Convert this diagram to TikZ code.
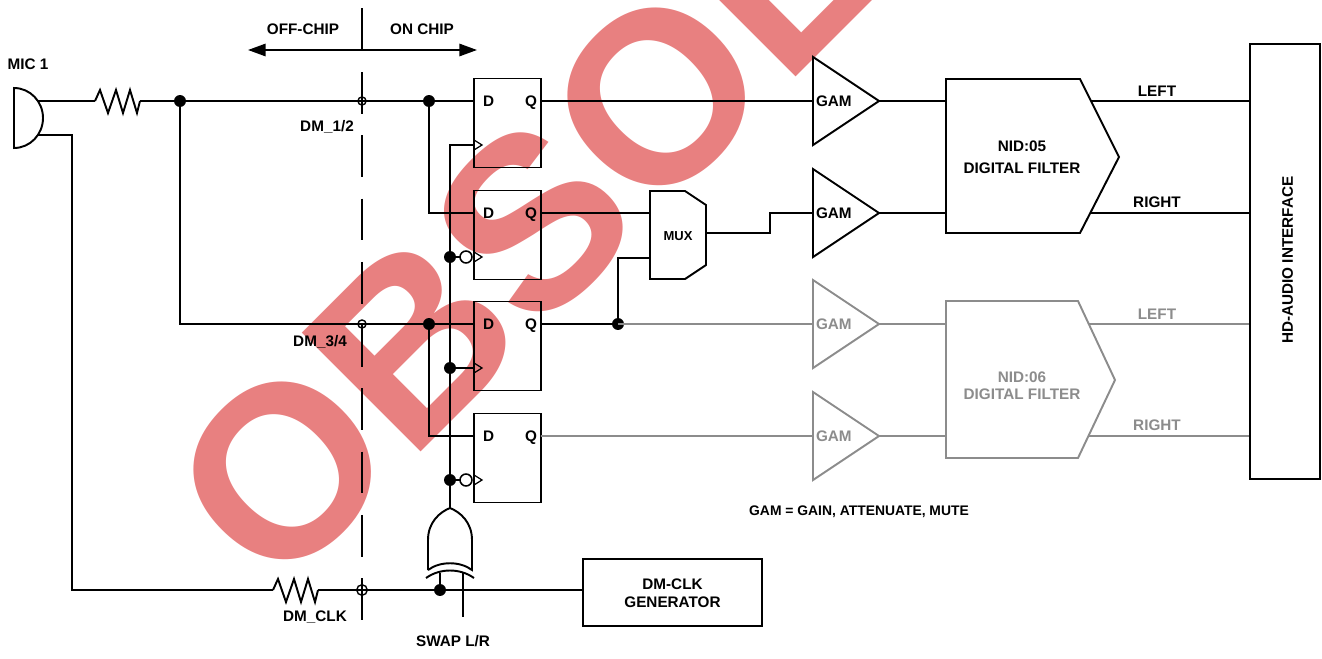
\documentclass[tikz,border=0pt]{standalone}
\usepackage{fontspec}
\setmainfont{Liberation Sans}
\usetikzlibrary{arrows.meta,calc}
\definecolor{wmcol}{RGB}{232,128,128}
\definecolor{dimcol}{RGB}{140,140,140}
\tikzset{
  wire/.style={line width=1.1pt, line join=miter},
  dimwire/.style={wire, draw=dimcol},
  lbl/.style={font=\fontsize{8.7}{10.2}\selectfont\bfseries, inner sep=0pt, outer sep=0pt},
  dimlbl/.style={lbl, text=dimcol},
  ffbox/.style={draw, line width=1.1pt, minimum width=1.34cm, minimum height=1.78cm, inner sep=0pt, outer sep=0pt},
  dot/.style={circle, fill, inner sep=0pt, outer sep=0pt, minimum size=6.8pt},
  ocirc/.style={circle, draw, line width=0.8pt, inner sep=0pt, minimum size=4.6pt},
  bubble/.style={circle, draw, fill=white, line width=0.9pt, inner sep=0pt, outer sep=0pt, minimum size=6.8pt},
  clkline/.style={line width=0.7pt},
  wmark/.style={font=\fontsize{139}{139}\selectfont\bfseries, text=wmcol, inner sep=0pt, rotate=45},
  resistor/.pic={\draw[wire] (0,0) -- (5,-11) -- (13,12) -- (21,-11) -- (28,12) -- (35,-11) -- (42,12) -- (45,0);
                 \coordinate (-a) at (0,0); \coordinate (-b) at (45,0);},
  clktri/.pic={\draw[clkline] (0,-5) -- (8,0) -- (0,5);},
  gam/.pic={\draw[line width=1.1pt] (0,-44) -- (66,0) -- (0,44) -- cycle;
            \coordinate (-in) at (0,0); \coordinate (-out) at (66,0);
            \node[lbl, anchor=base west] (-t) at (3,5.5) {GAM};},
}
\begin{document}
\begin{tikzpicture}[x=0.02cm,y=-0.02cm]
\useasboundingbox (0,0) rectangle (1322,659);
% watermark
\begin{scope}
  \clip (0,0) rectangle (1322,659);
  \node[wmark] (wm) at (691,63) {OBSOLETE};
\end{scope}

% flip-flops
\foreach \i/\y in {1/123,2/235,3/346,4/458}{
  \node[ffbox] (ff\i) at (507.5,\y) {};
  \coordinate (ff\i-d) at ($(ff\i.north west)+(0,22.5)$);
  \coordinate (ff\i-q) at ($(ff\i.north east)+(0,22.5)$);
  \coordinate (ff\i-c) at ($(ff\i.south west)+(0,-22.5)$);
  \node[lbl, anchor=base west] (ff\i-dl) at ($(ff\i.north west)+(9,28)$) {D};
  \node[lbl, anchor=base east] (ff\i-ql) at ($(ff\i.north east)+(-4,28)$) {Q};
  \pic at (ff\i-c) {clktri};
}

% junctions
\node[dot] (j1) at (180,101) {};
\node[dot] (j2) at (429,101) {};
\node[dot] (j4) at (429,324) {};
\node[dot] (j5) at ($(ff2-c)+(-24,0)$) {};
\node[dot] (j6) at ($(ff3-c)+(-24,0)$) {};
\node[dot] (j7) at ($(ff4-c)+(-24,0)$) {};
\node[dot] (j8) at (618,324) {};
\node[dot] (j9) at (440,590) {};
\node[ocirc] (c1) at (362,101) {};
\node[ocirc] (c2) at (362,324) {};
\node[ocirc, minimum width=4.6pt, minimum height=6pt] (c3) at (362,590) {};
\node[bubble] (b1) at ($(ff2-c)+(-8,0)$) {};
\node[bubble] (b2) at ($(ff4-c)+(-8,0)$) {};

% off-chip / on-chip marker
\coordinate (tA) at (362,8);
\coordinate (tB) at (362,50);
\coordinate (aL) at (248,50);
\coordinate (aR) at (477,50);
\draw[wire] (tA) -- (tB);
\draw[wire, {Triangle[length=10pt,width=7pt]}-{Triangle[length=10pt,width=7pt]}] (aL) -- (aR);
\node[lbl, anchor=base] (offc) at (303,34) {OFF-CHIP};
\node[lbl, anchor=base] (onc) at (422,34) {ON CHIP};
\coordinate (dA) at (362,72);
\coordinate (dB) at (362,640);
\draw[wire, dash pattern=on 23.8pt off 12.2pt] (dA) -- (dB);

% microphone
\draw[wire] (14,88) -- (14,148) .. controls (30,148) and (43,134.6) .. (43,118)
            .. controls (43,101.4) and (30,88) .. (14,88) -- cycle;
\coordinate (micT) at (38,101);
\coordinate (micB) at (38,135);
\node[lbl, anchor=base] (mic) at (28,69) {MIC 1};

% resistors
\pic (r1) at (95,101) {resistor};
\pic (r2) at (273,590) {resistor};

% data wires
\draw[wire] (micT) -- (r1-a);
\draw[wire] (r1-b) -- (j1.center) -- (c1.center) -- (j2.center) -- (ff1-d);
\coordinate (k1) at (180,324);
\draw[wire] (j1.center) -- (k1) -- (c2.center) -- (j4.center) -- (ff3-d);
\coordinate (k2) at (429,213);
\draw[wire] (j2.center) -- (k2) -- (ff2-d);
\coordinate (k3) at (429,436);
\draw[wire] (j4.center) -- (k3) -- (ff4-d);
\node[lbl, anchor=base] (dm12) at (327,131) {DM\_1/2};
\node[lbl, anchor=base] (dm34) at (320,346) {DM\_3/4};

% clock wires
\coordinate (k4) at (450,145);
\coordinate (xo) at (450,508);
\draw[wire] (ff1-c) -- (k4) -- (j5.center) -- (j6.center) -- (j7.center) -- (xo);
\draw[wire] (j5.center) -- (b1);
\draw[wire] (j6.center) -- (ff3-c);
\draw[wire] (j7.center) -- (b2);

% XOR gate
\draw[wire] (428,570) -- (428,540) .. controls (428,522) and (440,512) .. (xo)
            .. controls (460,512) and (472,522) .. (472,540) -- (472,570)
            .. controls (460,561) and (440,561) .. (428,570);
\draw[wire] (426,578) .. controls (440,568) and (460,568) .. (474,578);
\coordinate (xi1) at (440,573);
\coordinate (xi2) at (463,573);
\coordinate (swp) at (463,617);
\draw[wire] (j9.center) -- (xi1);
\draw[wire] (xi2) -- (swp);
\node[lbl, anchor=base] (swap) at (453,646) {SWAP L/R};

% DM-CLK generator
\node[draw, line width=1.1pt, minimum width=3.58cm, minimum height=1.34cm, inner sep=0pt] (gen) at (672.5,592.5) {};
\node[lbl, anchor=base] (gen1) at (672.5,589) {DM-CLK};
\node[lbl, anchor=base] (gen2) at (672.5,607) {GENERATOR};
\coordinate (mk) at (72,135);
\coordinate (mk2) at (72,590);
\draw[wire] (micB) -- (mk) -- (mk2) -- (r2-a);
\draw[wire] (r2-b) -- (c3.center) -- (j9.center) -- (j9.center -| gen.west);
\node[lbl, anchor=base] (dmclk) at (315,621) {DM\_CLK};

% MUX
\draw[wire] (650,191) -- (685,191) -- (706,205) -- (706,265) -- (685,279) -- (650,279) -- cycle;
\node[lbl, font=\fontsize{7.4}{9}\selectfont\bfseries, anchor=base] (mux) at (678,240) {MUX};
\coordinate (mi1) at (650,213);
\coordinate (mi2) at (650,258);
\coordinate (mo) at (706,233);
\coordinate (k5) at (618,258);
\coordinate (k6) at (770,233);
\coordinate (k7) at (770,213);

% GAMs
\pic (g1) at (813,101) {gam};
\pic (g2) at (813,213) {gam};
\pic[color=dimcol] (g3) at (813,324) {gam};
\pic[color=dimcol] (g4) at (813,436) {gam};

\draw[wire] (ff1-q) -- (g1-in);
\draw[wire] (ff2-q) -- (mi1);
\draw[wire] (ff3-q) -- (j8.center);
\draw[wire] (j8.center) -- (k5) -- (mi2);
\draw[wire] (mo) -- (k6) -- (k7) -- (g2-in);
\draw[dimwire] (j8.center) -- (g3-in);
\draw[dimwire] (ff4-q) -- (g4-in);

% filters
\draw[wire] (946,79) -- (1080,79) -- (1119,157) -- (1080,233) -- (946,233) -- cycle;
\node[lbl, anchor=base] (nid5a) at (1022,151) {NID:05};
\node[lbl, anchor=base] (nid5b) at (1022,173) {DIGITAL FILTER};
\draw[dimwire] (946,301) -- (1078,301) -- (1115,380) -- (1078,458) -- (946,458) -- cycle;
\node[dimlbl, anchor=base] (nid6a) at (1022,382) {NID:06};
\node[dimlbl, anchor=base] (nid6b) at (1022,399) {DIGITAL FILTER};
\coordinate (f1a) at (946,101);
\coordinate (f1b) at (946,213);
\coordinate (f2a) at (946,324);
\coordinate (f2b) at (946,436);
\draw[wire] (g1-out) -- (f1a);
\draw[wire] (g2-out) -- (f1b);
\draw[dimwire] (g3-out) -- (f2a);
\draw[dimwire] (g4-out) -- (f2b);

% HD audio interface
\node[draw, line width=1.1pt, minimum width=1.4cm, minimum height=8.7cm, inner sep=0pt] (hd) at (1285,261.5) {};
\node[lbl, rotate=90] (hdt) at (1287.5,260) {HD-AUDIO INTERFACE};
\coordinate (o1) at (1091,101);
\coordinate (o2) at (1090,213);
\coordinate (o3) at (1089,324);
\coordinate (o4) at (1088,436);
\draw[wire] (o1) -- (o1 -| hd.west);
\draw[wire] (o2) -- (o2 -| hd.west);
\draw[dimwire] (o3) -- (o3 -| hd.west);
\draw[dimwire] (o4) -- (o4 -| hd.west);
\node[lbl, anchor=base] (l1) at (1157,96) {LEFT};
\node[lbl, anchor=base] (l2) at (1157,207) {RIGHT};
\node[dimlbl, anchor=base] (l3) at (1157,319) {LEFT};
\node[dimlbl, anchor=base] (l4) at (1157,430) {RIGHT};

% legend
\node[lbl, font=\fontsize{7.9}{9}\selectfont\bfseries, anchor=base] (legend) at (859,515) {GAM = GAIN, ATTENUATE, MUTE};
\end{tikzpicture}
\end{document}
